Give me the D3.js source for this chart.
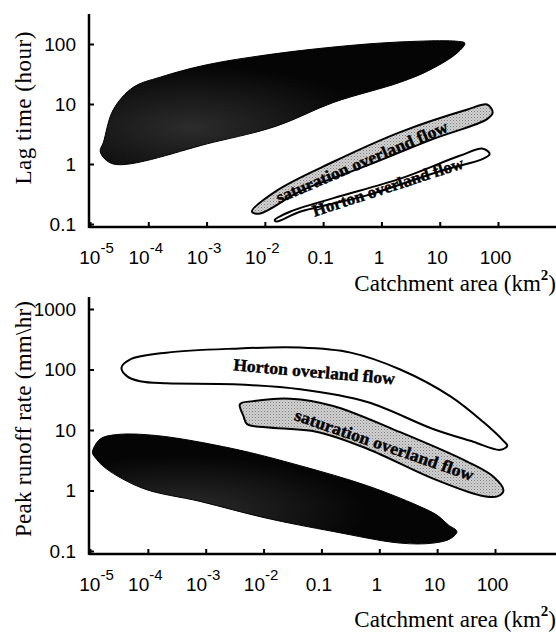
<!DOCTYPE html>
<html>
<head>
<meta charset="utf-8">
<script src="https://cdn.jsdelivr.net/npm/d3@7"></script>
<style>
  body { margin: 0; background: #fff; }
  svg { display: block; font-family: "Liberation Serif", "DejaVu Serif", serif; }
</style>
</head>
<body>
<svg id="chart" width="556" height="632"></svg>
<script>
// tick values
const areaTicks = [1e-5, 1e-4, 1e-3, 1e-2, 0.1, 1, 10, 100];
const lagTicks = [0.1, 1, 10, 100];
const peakTicks = [0.1, 1, 10, 100, 1000];

// top panel: lag time regions, [area km2, hours]
const lagSubsurface = [
  [1.5e-5, 1.6], [1.7e-5, 2.3], [2.5e-5, 8], [5.5e-5, 19], [1.6e-4, 28],
  [1e-3, 45], [1.1e-2, 66], [0.15, 89], [2, 108], [20, 111], [27, 103],
  [20, 71], [6.8, 37], [2.1, 23], [0.15, 10.6], [0.016, 4.3],
  [1.3e-3, 2.3], [2.5e-5, 1.0]
];
const lagSaturation = [
  [6e-3, 0.16], [0.016, 0.36], [0.15, 1.09], [2.1, 3.4], [30, 8.1], [65, 9.8],
  [81, 7.2], [65, 5.6], [7.6, 2.6], [0.56, 0.94], [0.04, 0.35], [8.3e-3, 0.15]
];
const lagHorton = [
  [0.0148, 0.116], [0.027, 0.16], [0.15, 0.27], [2.1, 0.57], [22, 1.37], [55, 1.8],
  [72, 1.47], [55, 1.22], [11, 0.78], [0.56, 0.30], [0.04, 0.16], [0.016, 0.11]
];

// bottom panel: peak runoff regions, [area km2, mm/hr]
const peakSubsurface = [
  [1.1e-5, 4.3], [1.5e-5, 7.1], [2.9e-5, 8.4], [1.4e-4, 8.1], [3e-3, 4.9],
  [0.043, 2.57], [0.62, 1.2], [4.5, 0.57], [10, 0.39], [15.6, 0.27], [22, 0.21],
  [17, 0.16], [8.5, 0.135], [2.3, 0.135], [0.16, 0.21], [0.011, 0.35],
  [8e-4, 0.66], [8.3e-5, 1.08], [1.9e-5, 2.3], [1.2e-5, 3.6]
];
const peakHorton = [
  [3.5e-5, 107], [4.9e-5, 146], [2.1e-4, 190], [3e-3, 221], [0.043, 230],
  [0.32, 190], [2.3, 100], [17, 36], [63, 13.5], [140, 6.6], [163, 5.5],
  [123, 4.7], [42, 6.4], [8.5, 10.4], [0.62, 29], [0.043, 47], [3e-3, 57],
  [2.1e-4, 59], [7.3e-5, 64], [4.4e-5, 77]
];
const peakSaturation = [
  [3.9e-3, 26.7], [6.6e-3, 30], [0.029, 33], [0.16, 25], [2.3, 9.2], [33, 3.0],
  [93, 1.7], [140, 1.0], [110, 0.8], [56, 0.83], [8.5, 1.57], [0.62, 4.9],
  [0.085, 9.3], [0.011, 11.1], [5.2e-3, 12.5], [4.5e-3, 17]
];

// region labels: [area, value, angle, text, length]
const lagLabels = [
  [0.46, 1.09, -23, "saturation overland flow", 185],
  [1.29, 0.42, -18, "Horton overland flow", 158]
];
const peakLabels = [
  [0.075, 93, 5, "Horton overland flow", 162],
  [1.22, 5.7, 19, "saturation overland flow", 188]
];

const svg = d3.select("#chart");

const defs = svg.append("defs");
const grad = defs.append("radialGradient")
  .attr("id", "darkfill").attr("cx", "0.25").attr("cy", "0.7").attr("r", "0.5");
grad.append("stop").attr("offset", "0%").attr("stop-color", "#2c2c2c");
grad.append("stop").attr("offset", "100%").attr("stop-color", "#050505");

const stip = defs.append("pattern")
  .attr("id", "stipple").attr("width", 3).attr("height", 3)
  .attr("patternUnits", "userSpaceOnUse");
stip.append("rect").attr("width", 3).attr("height", 3).attr("fill", "#d0d0d0");
stip.append("rect").attr("width", 1).attr("height", 1).attr("fill", "#808080");
stip.append("rect").attr("x", 1.5).attr("y", 1.5).attr("width", 1).attr("height", 1).attr("fill", "#a0a0a0");

function superLabel(sel, v) {
  sel.text(null);
  const e = Math.round(Math.log10(v));
  if (e < -1) {
    sel.append("tspan").text("10");
    sel.append("tspan").attr("dy", -11).attr("font-size", 15).text(e);
  } else {
    sel.text(e === -1 ? "0.1" : String(v));
  }
}

function drawPanel(opt) {
  const g = svg.append("g");
  const x = d3.scaleLog().domain([1e-5, 100]).range(opt.xRange);
  const y = d3.scaleLog().domain(opt.yDomain).range(opt.yRange);

  const line = d3.line()
    .x(d => x(d[0])).y(d => y(d[1]))
    .curve(d3.curveCatmullRomClosed.alpha(0.5));

  opt.regions.forEach(r => {
    g.append("path")
      .attr("d", line(r.data))
      .attr("fill", r.fill)
      .attr("stroke", "#000")
      .attr("stroke-width", r.sw)
      .attr("stroke-linejoin", "round");
  });

  opt.labels.forEach(l => {
    g.append("text")
      .attr("transform", `translate(${x(l[0])},${y(l[1])}) rotate(${l[2]})`)
      .attr("text-anchor", "middle")
      .attr("dy", "0.35em")
      .attr("font-weight", "bold")
      .attr("font-size", 17)
      .attr("stroke", "#000").attr("stroke-width", 0.4)
      .attr("textLength", l[4])
      .attr("lengthAdjust", "spacingAndGlyphs")
      .text(l[3]);
  });

  // axes
  const xAxis = g.append("g")
    .attr("transform", `translate(0,${opt.xAxisY})`)
    .call(d3.axisBottom(x).tickValues(areaTicks).tickSizeInner(-5).tickSizeOuter(0).tickPadding(24));
  xAxis.select(".domain").remove();
  xAxis.selectAll(".tick line").attr("stroke-width", 2);
  xAxis.selectAll(".tick text")
    .attr("font-size", 19).attr("fill", "#000").attr("dx", -3)
    .each(function(d) { superLabel(d3.select(this), d); });
  xAxis.select(".tick text").attr("dx", 6);

  const yAxis = g.append("g")
    .attr("transform", `translate(${opt.yAxisX},0)`)
    .call(d3.axisLeft(y).tickValues(opt.yTicks).tickSizeInner(-5).tickSizeOuter(0).tickPadding(13)
      .tickFormat(d => d < 1 ? "0.1" : String(d)));
  yAxis.select(".domain").remove();
  yAxis.selectAll(".tick line").attr("stroke-width", 2);
  yAxis.selectAll(".tick text").attr("font-size", 19).attr("fill", "#000");

  g.append("line")
    .attr("x1", opt.yAxisX).attr("x2", opt.yAxisX)
    .attr("y1", opt.yTop).attr("y2", opt.xAxisY + 1)
    .attr("stroke", "#000").attr("stroke-width", 2.5);
  g.append("line")
    .attr("x1", opt.yAxisX).attr("x2", 556)
    .attr("y1", opt.xAxisY).attr("y2", opt.xAxisY)
    .attr("stroke", "#000").attr("stroke-width", 2.5);

  // titles
  const xt = g.append("text")
    .attr("x", 556).attr("y", opt.xTitleY)
    .attr("text-anchor", "end").attr("font-size", 23);
  xt.append("tspan").text("Catchment area (km");
  xt.append("tspan").attr("dy", -11).attr("font-size", 15).attr("font-weight", "bold").text("2");
  xt.append("tspan").attr("dy", 11).text(")");

  g.append("text")
    .attr("transform", `translate(${opt.yTitleX},${opt.yTitleY}) rotate(-90)`)
    .attr("text-anchor", "middle").attr("font-size", 23)
    .attr("textLength", opt.yTitleLen)
    .text(opt.yTitle);
}

drawPanel({
  xRange: [90, 498], yDomain: [0.1, 100], yRange: [224, 44],
  xAxisY: 227, yAxisX: 89, yTop: 14, yTicks: lagTicks,
  xTitleY: 291, yTitleX: 31, yTitleY: 108, yTitleLen: 153, yTitle: "Lag time (hour)",
  regions: [
    { data: lagSubsurface, fill: "url(#darkfill)", sw: 1 },
    { data: lagSaturation, fill: "url(#stipple)", sw: 2 },
    { data: lagHorton, fill: "#fff", sw: 2 }
  ],
  labels: lagLabels
});

drawPanel({
  xRange: [90, 495], yDomain: [0.1, 1000], yRange: [551, 309],
  xAxisY: 554, yAxisX: 89, yTop: 297, yTicks: peakTicks,
  xTitleY: 627, yTitleX: 31, yTitleY: 419, yTitleLen: 236, yTitle: "Peak runoff rate (mm\\hr)",
  regions: [
    { data: peakSubsurface, fill: "url(#darkfill)", sw: 1 },
    { data: peakHorton, fill: "#fff", sw: 2 },
    { data: peakSaturation, fill: "url(#stipple)", sw: 2 }
  ],
  labels: peakLabels
});
</script>
</body>
</html>
